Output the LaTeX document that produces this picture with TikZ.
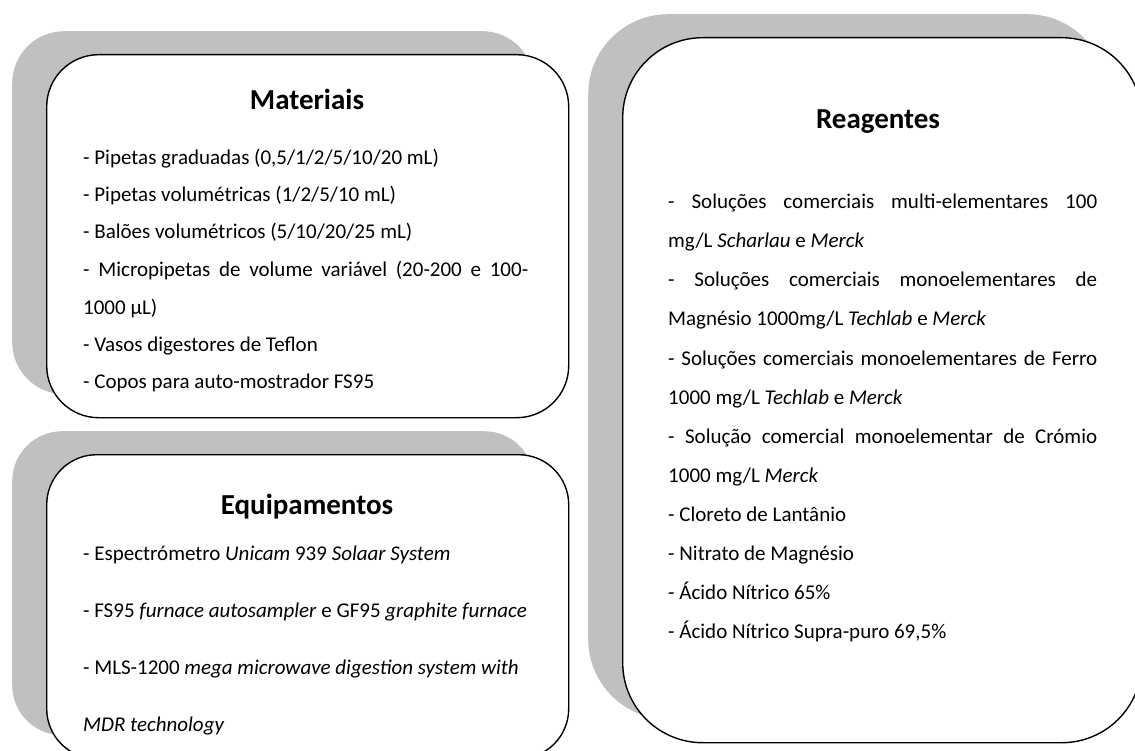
\documentclass[tikz,border=0pt]{standalone}
\usepackage{fontspec}
\setmainfont{Carlito}
\definecolor{shadowgray}{HTML}{C0C0C0}
\tikzset{
  card/.style={draw=black, line width=1.4pt, fill=white, rounded corners=#1, inner sep=0pt, anchor=north west},
  cardshadow/.style={fill=shadowgray, rounded corners=#1, inner sep=0pt, anchor=north west},
  ttl/.style={font=\fontsize{29}{29}\selectfont\bfseries, inner sep=0pt, anchor=base},
  item/.style={font=\fontsize{21}{21}\selectfont, inner sep=0pt, anchor=base west},
}
\begin{document}
\begin{tikzpicture}[x=1pt,y=-1pt]
\useasboundingbox (0,0) rectangle (1135,751);
% shadows
\node[cardshadow=52pt, minimum width=522pt, minimum height=363pt] (matS) at (12,31) {};
\node[cardshadow=50pt, minimum width=522pt, minimum height=304pt] (equS) at (12,431) {};
\node[cardshadow=80pt, minimum width=519pt, minimum height=705pt] (reaS) at (588,14) {};
% cards
\node[card=52pt, minimum width=522pt, minimum height=363pt] (mat) at (46,54) {};
\node[card=50pt, minimum width=522pt, minimum height=304pt] (equ) at (46,454) {};
\node[card=80pt, minimum width=519pt, minimum height=705pt] (rea) at (622,37) {};
% Materiais
\node[ttl] (matT) at (307,110) {Materiais};
\node[item] (m1) at (83,165) {- Pipetas graduadas (0,5/1/2/5/10/20 mL)};
\node[item] (m2) at (83,202) {- Pipetas volumétricas (1/2/5/10 mL)};
\node[item] (m3) at (83,239) {- Balões volumétricos (5/10/20/25 mL)};
\node[item] (m4) at (83,277) {\makebox[445pt][s]{- Micropipetas de volume variável (20-200 e 100-}};
\node[item] (m5) at (83,314) {1000 µL)};
\node[item] (m6) at (83,351) {- Vasos digestores de Teflon};
\node[item] (m7) at (83,388) {- Copos para auto-mostrador FS95};
% Equipamentos
\node[ttl] (equT) at (307,514) {Equipamentos};
\node[item] (e1) at (83,560) {- Espectrómetro \textit{Unicam} 939 \textit{Solaar System}};
\node[item] (e2) at (83,617) {- FS95 \textit{furnace autosampler} e GF95 \textit{graphite furnace}};
\node[item] (e3) at (83,674) {- MLS-1200 \textit{mega microwave digestion system with}};
\node[item] (e4) at (83,731) {\textit{MDR technology}};
% Reagentes
\node[ttl] (reaT) at (878,129) {Reagentes};
\node[item] (r1) at (668,209) {\makebox[429pt][s]{- Soluções comerciais multi-elementares 100}};
\node[item] (r2) at (668,248) {mg/L \textit{Scharlau} e \textit{Merck}};
\node[item] (r3) at (668,287) {\makebox[429pt][s]{- Soluções comerciais monoelementares de}};
\node[item] (r4) at (668,326) {Magnésio 1000mg/L \textit{Techlab} e \textit{Merck}};
\node[item] (r5) at (668,365) {\makebox[429pt][s]{- Soluções comerciais monoelementares de Ferro}};
\node[item] (r6) at (668,404) {1000 mg/L \textit{Techlab} e \textit{Merck}};
\node[item] (r7) at (668,443) {\makebox[429pt][s]{- Solução comercial monoelementar de Crómio}};
\node[item] (r8) at (668,482) {1000 mg/L \textit{Merck}};
\node[item] (r9) at (668,521) {- Cloreto de Lantânio};
\node[item] (r10) at (668,560) {- Nitrato de Magnésio};
\node[item] (r11) at (668,599) {- Ácido Nítrico 65\%};
\node[item] (r12) at (668,638) {- Ácido Nítrico Supra-puro 69,5\%};
\end{tikzpicture}
\end{document}
